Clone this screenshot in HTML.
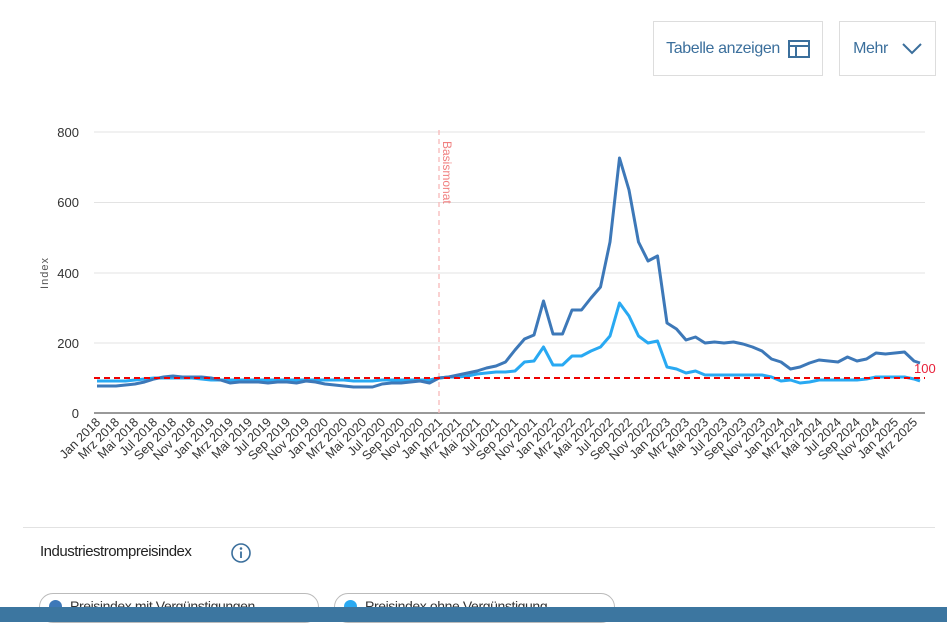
<!DOCTYPE html>
<html><head><meta charset="utf-8"><style>
body{margin:0;background:#fff;width:947px;height:622px;overflow:hidden;position:relative;font-family:"Liberation Sans",sans-serif}
.btn{position:absolute;border:1px solid #ddd;color:#3b6f9c;font-size:16px;display:flex;align-items:center;justify-content:center;box-sizing:border-box;letter-spacing:-0.4px}
.pill{position:absolute;top:593px;height:30px;border:1px solid #bbb;border-radius:14px;font-size:14px;color:#333;box-sizing:border-box;padding-left:30px;line-height:24px;letter-spacing:-0.4px}
.dot{position:absolute;left:9px;top:6px;width:13px;height:13px;border-radius:50%}
</style></head><body>
<div class="btn" style="left:653px;top:21px;width:170px;height:55px">Tabelle anzeigen
<svg width="22" height="18" style="margin-left:8px"><rect x="1" y="1" width="20" height="16" fill="none" stroke="#3b6f9c" stroke-width="2"/><line x1="1" y1="6" x2="21" y2="6" stroke="#3b6f9c" stroke-width="2"/><line x1="8" y1="6" x2="8" y2="17" stroke="#3b6f9c" stroke-width="2"/></svg></div>
<div class="btn" style="left:839px;top:21px;width:97px;height:55px">Mehr
<svg width="20" height="12" style="margin-left:14px"><polyline points="1,1 10,10 19,1" fill="none" stroke="#3b6f9c" stroke-width="2"/></svg></div>

<svg width="947" height="520" style="position:absolute;left:0;top:0" font-family="Liberation Sans, sans-serif">
<g stroke="#e3e3e3" stroke-width="1">
<line x1="94" y1="132" x2="925" y2="132"/><line x1="94" y1="202.5" x2="925" y2="202.5"/><line x1="94" y1="273" x2="925" y2="273"/><line x1="94" y1="343" x2="925" y2="343"/>
</g>
<line x1="94" y1="413" x2="925" y2="413" stroke="#333" stroke-width="1"/>
<g font-size="13" fill="#333" text-anchor="end">
<text x="79" y="137">800</text><text x="79" y="207">600</text><text x="79" y="278">400</text><text x="79" y="348">200</text><text x="79" y="418">0</text>
</g>
<text transform="translate(48,273) rotate(-90)" font-size="11" fill="#555" text-anchor="middle" letter-spacing="1">Index</text>
<line x1="439" y1="130" x2="439" y2="413" stroke="#f7b8b8" stroke-width="1.3" stroke-dasharray="5,4"/>
<text transform="translate(443,141) rotate(90)" font-size="12" fill="#f08080">Basismonat</text>
<polyline fill="none" stroke="#29a9f2" stroke-width="3" stroke-linejoin="round" points="97,381 106.5,381 116,381 125.5,381 135,380 144.5,379 154,378 163.5,378 173,378 182.5,378 192,378 201.5,379 211,380 220.5,380 230,380 239.5,380 249,380 258.5,380 268,380 277.5,380 287,380 296.5,380 306,380 315.5,380 325,380 334.5,380 344,380 353.5,381 363,381 372.5,381 382,380 391.5,380 401,380 410.5,380 420,380 429.5,380 439,378 448.5,377 458,377 467.5,376 477,374 486.5,373 496,372 505.5,372 515,371 524.5,362 534,361 543.5,347 553,365 562.5,365 572,356 581.5,356 591,351 600.5,347 610,336 619.5,303 629,316 638.5,336 648,343 657.5,341 667,367 676.5,369 686,373 695.5,371 705,375 714.5,375 724,375 733.5,375 743,375 752.5,375 762,375 771.5,377 781,381 790.5,380 800,383 809.5,382 819,380 828.5,380 838,380 847.5,380 857,380 866.5,379 876,377 885.5,377 895,377 904.5,377 914,379 920,381"/>
<polyline fill="none" stroke="#3d78b8" stroke-width="3" stroke-linejoin="round" points="97,386 106.5,386 116,386 125.5,385 135,384 144.5,382 154,379 163.5,377 173,376 182.5,377 192,377 201.5,377 211,378 220.5,380 230,383 239.5,382 249,382 258.5,382 268,383 277.5,382 287,382 296.5,383 306,381 315.5,382 325,384 334.5,385 344,386 353.5,387 363,387 372.5,387 382,384 391.5,383 401,383 410.5,382 420,381 429.5,383 439,378 448.5,377 458,375 467.5,373 477,371 486.5,368 496,366 505.5,362 515,350 524.5,339 534,335 543.5,301 553,334 562.5,334 572,310 581.5,310 591,298 600.5,287 610,242 619.5,158 629,190 638.5,242 648,261 657.5,256 667,323 676.5,329 686,340 695.5,337 705,343 714.5,342 724,343 733.5,342 743,344 752.5,347 762,351 771.5,359 781,362 790.5,369 800,367 809.5,363 819,360 828.5,361 838,362 847.5,357 857,361 866.5,359 876,353 885.5,354 895,353 904.5,352 914,361 920,363"/>
<line x1="94" y1="378" x2="925" y2="378" stroke="#e00" stroke-width="2" stroke-dasharray="6,4"/>
<text x="914" y="373" font-size="13" fill="#e8213a">100</text>
<g font-size="12.5" fill="#333" text-anchor="end">
<text transform="translate(101,423) rotate(-45)">Jan 2018</text>
<text transform="translate(120,423) rotate(-45)">Mrz 2018</text>
<text transform="translate(139,423) rotate(-45)">Mai 2018</text>
<text transform="translate(158,423) rotate(-45)">Jul 2018</text>
<text transform="translate(177,423) rotate(-45)">Sep 2018</text>
<text transform="translate(196,423) rotate(-45)">Nov 2018</text>
<text transform="translate(215,423) rotate(-45)">Jan 2019</text>
<text transform="translate(234,423) rotate(-45)">Mrz 2019</text>
<text transform="translate(253,423) rotate(-45)">Mai 2019</text>
<text transform="translate(272,423) rotate(-45)">Jul 2019</text>
<text transform="translate(291,423) rotate(-45)">Sep 2019</text>
<text transform="translate(310,423) rotate(-45)">Nov 2019</text>
<text transform="translate(329,423) rotate(-45)">Jan 2020</text>
<text transform="translate(348,423) rotate(-45)">Mrz 2020</text>
<text transform="translate(367,423) rotate(-45)">Mai 2020</text>
<text transform="translate(386,423) rotate(-45)">Jul 2020</text>
<text transform="translate(405,423) rotate(-45)">Sep 2020</text>
<text transform="translate(424,423) rotate(-45)">Nov 2020</text>
<text transform="translate(443,423) rotate(-45)">Jan 2021</text>
<text transform="translate(462,423) rotate(-45)">Mrz 2021</text>
<text transform="translate(481,423) rotate(-45)">Mai 2021</text>
<text transform="translate(500,423) rotate(-45)">Jul 2021</text>
<text transform="translate(519,423) rotate(-45)">Sep 2021</text>
<text transform="translate(538,423) rotate(-45)">Nov 2021</text>
<text transform="translate(557,423) rotate(-45)">Jan 2022</text>
<text transform="translate(576,423) rotate(-45)">Mrz 2022</text>
<text transform="translate(595,423) rotate(-45)">Mai 2022</text>
<text transform="translate(614,423) rotate(-45)">Jul 2022</text>
<text transform="translate(633,423) rotate(-45)">Sep 2022</text>
<text transform="translate(652,423) rotate(-45)">Nov 2022</text>
<text transform="translate(671,423) rotate(-45)">Jan 2023</text>
<text transform="translate(690,423) rotate(-45)">Mrz 2023</text>
<text transform="translate(709,423) rotate(-45)">Mai 2023</text>
<text transform="translate(728,423) rotate(-45)">Jul 2023</text>
<text transform="translate(747,423) rotate(-45)">Sep 2023</text>
<text transform="translate(766,423) rotate(-45)">Nov 2023</text>
<text transform="translate(785,423) rotate(-45)">Jan 2024</text>
<text transform="translate(804,423) rotate(-45)">Mrz 2024</text>
<text transform="translate(823,423) rotate(-45)">Mai 2024</text>
<text transform="translate(842,423) rotate(-45)">Jul 2024</text>
<text transform="translate(861,423) rotate(-45)">Sep 2024</text>
<text transform="translate(880,423) rotate(-45)">Nov 2024</text>
<text transform="translate(899,423) rotate(-45)">Jan 2025</text>
<text transform="translate(918,423) rotate(-45)">Mrz 2025</text>
</g>
</svg>

<div style="position:absolute;left:23px;top:527px;width:912px;height:1px;background:#e2e2e2"></div>
<div style="position:absolute;left:40px;top:543px;font-size:15px;color:#222;letter-spacing:-0.5px">Industriestrompreisindex</div>
<svg width="22" height="22" style="position:absolute;left:230px;top:542px"><circle cx="11" cy="11" r="9" fill="none" stroke="#3b6f9c" stroke-width="1.6"/><circle cx="11" cy="6.5" r="1.3" fill="#3b6f9c"/><line x1="11" y1="9.5" x2="11" y2="16" stroke="#3b6f9c" stroke-width="1.8"/></svg>
<div class="pill" style="left:39px;width:280px"><span class="dot" style="background:#3d78b8"></span>Preisindex mit Vergünstigungen</div>
<div class="pill" style="left:334px;width:281px"><span class="dot" style="background:#29a9f2"></span>Preisindex ohne Vergünstigung</div>
<div style="position:absolute;left:0;top:607px;width:947px;height:15px;background:#3c76a0"></div>
</body></html>
